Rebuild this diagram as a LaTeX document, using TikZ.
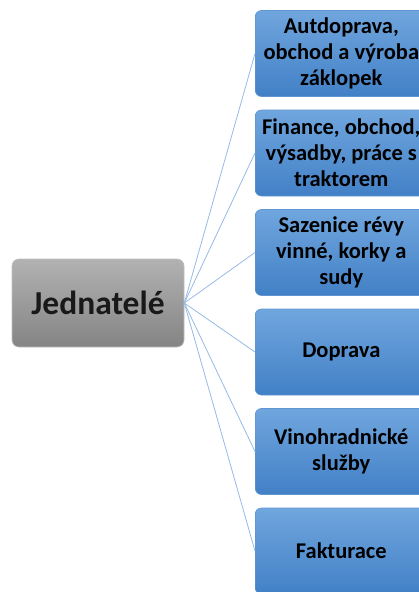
\documentclass[tikz,border=0pt]{standalone}
\usepackage{fontspec}
\setmainfont{Carlito}
\definecolor{boxtop}{RGB}{112,166,222}
\definecolor{boxbot}{RGB}{66,128,198}
\definecolor{boxedge}{RGB}{95,150,210}
\definecolor{graytop}{RGB}{178,178,178}
\definecolor{graybot}{RGB}{132,132,132}
\definecolor{grayedge}{RGB}{190,190,190}
\definecolor{linkcol}{RGB}{150,186,228}
\begin{document}
\begin{tikzpicture}[x=1pt,y=-1pt,
  childbox/.style={rounded corners=6pt, top color=boxtop, bottom color=boxbot, draw=boxedge, line width=0.6pt,
    minimum width=172pt, minimum height=86pt, anchor=west, align=center,
    font=\fontsize{22.5}{26}\selectfont\bfseries, text=black, inner sep=0pt},
  rootbox/.style={rounded corners=7pt, top color=graytop, bottom color=graybot, draw=grayedge, line width=0.6pt,
    minimum width=172pt, minimum height=88pt, align=center,
    font=\fontsize{33.5}{38}\selectfont\bfseries, text=black!90, inner sep=0pt},
  link/.style={draw=linkcol, line width=0.8pt}]
\useasboundingbox (0,0) rectangle (419,592);
\clip (0,0) rectangle (419,592);
\node[rootbox] (root) at (98,303) {Jednatelé};
\node[childbox] (c1) at (255,53.5) {Autdoprava,\\obchod a výroba\\záklopek};
\node[childbox] (c2) at (255,153) {Finance, obchod,\\výsadby, práce s\\traktorem};
\node[childbox] (c3) at (255,252.5) {Sazenice révy\\vinné, korky a\\sudy};
\node[childbox] (c4) at (255,352) {Doprava};
\node[childbox] (c5) at (255,451.5) {Vinohradnické\\služby};
\node[childbox] (c6) at (255,551) {Fakturace};
\foreach \c in {c1,c2,c3,c4,c5,c6} \draw[link] (root.east) -- (\c.west);
\end{tikzpicture}
\end{document}
